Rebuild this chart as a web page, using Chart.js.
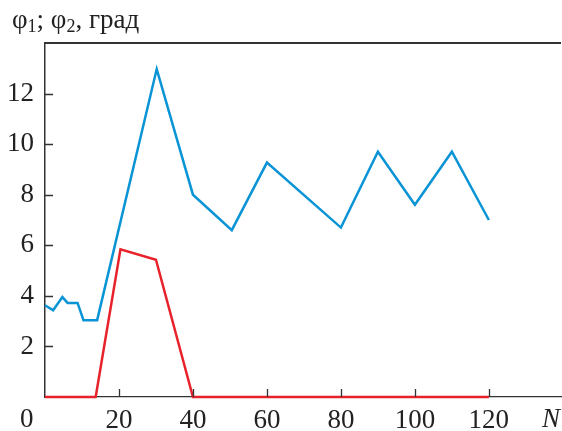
<!DOCTYPE html>
<html>
<head>
<meta charset="utf-8">
<script src="https://cdn.jsdelivr.net/npm/chart.js@4"></script>
<style>
  body { margin: 0; background: #fff; }
  #wrap { position: relative; width: 562px; height: 431px; }
  .lbl { position: absolute; font-family: "Liberation Serif", "Times New Roman", serif; font-size: 27px; line-height: 27px; color: #222; white-space: nowrap; }
  .lbl sub { font-size: 18px; vertical-align: -4px; line-height: 0; }
</style>
</head>
<body>
<div id="wrap">
  <canvas id="chart" width="562" height="431"></canvas>
  <div class="lbl" style="left:12px; top:6px;">φ<sub>1</sub>; φ<sub>2</sub>, град</div>
  <div class="lbl" style="left:20px; top:405px;">0</div>
  <div class="lbl" style="left:542px; top:405px; font-style:italic;">N</div>
</div>
<script>
// series
const phi1X = [0, 2.2, 4.7, 6.1, 8.8, 10.4, 14.1, 30.2, 40, 50.5, 60, 80, 90, 100, 110, 120];
const phi1Y = [3.63, 3.43, 3.95, 3.72, 3.72, 3.04, 3.04, 12.97, 8.0, 6.6, 9.27, 6.7, 9.7, 7.6, 9.7, 7.0];
const phi2X = [0, 13.7, 20.4, 30, 40, 120];
const phi2Y = [0, 0, 5.84, 5.43, 0, 0];
const xTicks = [20, 40, 60, 80, 100, 120];
const yTicks = [2, 4, 6, 8, 10, 12];

const toPoints = (xs, ys) => xs.map((x, i) => ({ x: x, y: ys[i] }));

// tick marks pointing into the plot, plus the top frame line
const innerTicks = {
  id: 'innerTicks',
  afterDraw(chart) {
    const { ctx, chartArea, scales } = chart;
    ctx.save();
    ctx.strokeStyle = '#333';
    ctx.lineWidth = 1.3;
    ctx.beginPath();
    xTicks.forEach(v => {
      const px = Math.round(scales.x.getPixelForValue(v)) + 0.5;
      ctx.moveTo(px, chartArea.bottom);
      ctx.lineTo(px, chartArea.bottom - 8);
    });
    yTicks.forEach(v => {
      const py = Math.round(scales.y.getPixelForValue(v)) + 0.5;
      ctx.moveTo(chartArea.left, py);
      ctx.lineTo(chartArea.left + 8, py);
    });
    ctx.stroke();
    ctx.lineWidth = 1.8;
    ctx.beginPath();
    ctx.moveTo(chartArea.left, chartArea.top);
    ctx.lineTo(chartArea.right, chartArea.top);
    ctx.stroke();
    ctx.restore();
  }
};

const tickFont = { family: '"Liberation Serif", "Times New Roman", serif', size: 27 };

new Chart(document.getElementById('chart'), {
  type: 'line',
  data: {
    datasets: [
      {
        label: 'φ1',
        data: toPoints(phi1X, phi1Y),
        borderColor: '#0a94d6',
        borderWidth: 2.5,
        pointRadius: 0,
        tension: 0,
        clip: 4
      },
      {
        label: 'φ2',
        data: toPoints(phi2X, phi2Y),
        borderColor: '#e8222a',
        borderWidth: 2.5,
        pointRadius: 0,
        tension: 0,
        clip: 4
      }
    ]
  },
  options: {
    responsive: false,
    animation: false,
    devicePixelRatio: 1,
    layout: { padding: { top: 43, right: 1 } },
    plugins: { legend: { display: false }, tooltip: { enabled: false } },
    scales: {
      x: {
        type: 'linear',
        min: 0,
        max: 139.5,
        afterFit: s => { s.height = 34; },
        afterBuildTicks: s => { s.ticks = xTicks.map(v => ({ value: v })); },
        ticks: { font: tickFont, color: '#222', padding: 8, autoSkip: false, maxRotation: 0 },
        grid: { display: false, drawTicks: false },
        border: { color: '#333', width: 1.3 }
      },
      y: {
        min: 0,
        max: 14,
        afterFit: s => { s.width = 45; },
        afterBuildTicks: s => { s.ticks = yTicks.map(v => ({ value: v })); },
        ticks: { font: tickFont, color: '#222', padding: 11 },
        grid: { display: false, drawTicks: false },
        border: { color: '#333', width: 1.5 }
      }
    }
  },
  plugins: [innerTicks]
});
</script>
</body>
</html>
